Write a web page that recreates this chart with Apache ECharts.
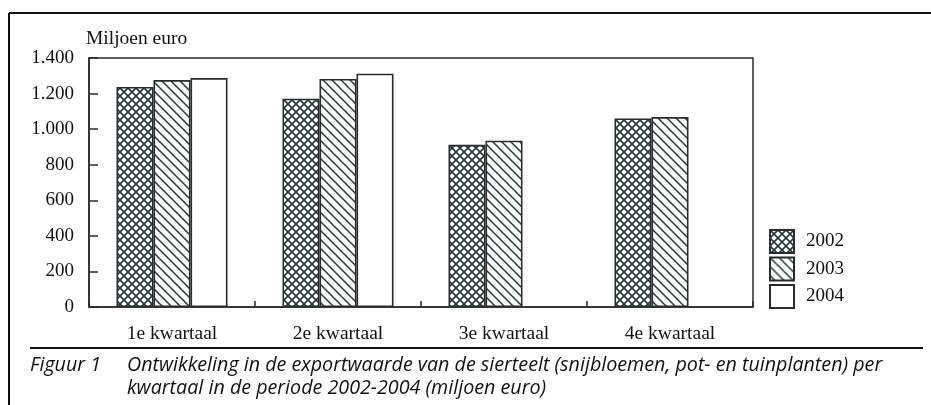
<!DOCTYPE html>
<html>
<head>
<meta charset="utf-8">
<script src="https://cdn.jsdelivr.net/npm/echarts@6/dist/echarts.min.js"></script>
<style>
  html, body { margin: 0; padding: 0; background: #fff; }
  #chart { width: 931px; height: 405px; }
</style>
</head>
<body>
<div id="chart"></div>
<script>
const categories = ["1e kwartaal", "2e kwartaal", "3e kwartaal", "4e kwartaal"];
const years = ["2002", "2003", "2004"];
const values2002 = [1237, 1171, 912, 1060];
const values2003 = [1276, 1282, 935, 1068];
const values2004 = [1287, 1312, null, null];
const yTicks = [0, 200, 400, 600, 800, 1000, 1200, 1400];

const ink = "#2b2b2b";
const hatchInk = "#263a3a";

function crossHatch() {
  const c = document.createElement("canvas");
  c.width = 8; c.height = 8;
  const g = c.getContext("2d");
  g.fillStyle = "#fff";
  g.fillRect(0, 0, 8, 8);
  g.strokeStyle = hatchInk;
  g.lineWidth = 1.7;
  g.beginPath();
  g.moveTo(-1, -1); g.lineTo(9, 9);
  g.moveTo(9, -1); g.lineTo(-1, 9);
  g.stroke();
  return c;
}

function diagHatch() {
  const c = document.createElement("canvas");
  c.width = 9; c.height = 9;
  const g = c.getContext("2d");
  g.fillStyle = "#fff";
  g.fillRect(0, 0, 9, 9);
  g.strokeStyle = hatchInk;
  g.lineWidth = 1.5;
  g.beginPath();
  g.moveTo(-1, -1); g.lineTo(10, 10);
  g.moveTo(-1, 8); g.lineTo(1, 10);
  g.moveTo(8, -1); g.lineTo(10, 1);
  g.stroke();
  return c;
}

const fills = [
  { image: crossHatch(), repeat: "repeat" },
  { image: diagHatch(), repeat: "repeat" },
  "#fff"
];
const seriesData = [values2002, values2003, values2004];

const serif = "'Liberation Serif', 'Times New Roman', serif";
const capFont = "'Open Sans', 'DejaVu Sans', sans-serif";

function fmt(v) {
  return String(v).replace(/\B(?=(\d{3})+(?!\d))/g, ".");
}

const chart = echarts.init(document.getElementById("chart"), null, { renderer: "canvas" });

chart.setOption({
  animation: false,
  backgroundColor: "#fff",
  grid: {
    left: 89, top: 58, width: 664, height: 249,
    show: true, borderColor: ink, borderWidth: 1.5, backgroundColor: "transparent"
  },
  legend: {
    orient: "vertical",
    left: 769, top: 229, padding: 0,
    itemWidth: 24, itemHeight: 23, itemGap: 2.5,
    icon: "rect",
    data: years,
    textStyle: { fontFamily: serif, fontSize: 19, lineHeight: 23, color: "#111", padding: [0, 0, 0, 7] }
  },
  xAxis: {
    type: "category",
    data: categories,
    axisLine: { lineStyle: { color: ink, width: 1.5 } },
    axisTick: { show: true, inside: true, length: 6, lineStyle: { color: ink, width: 1.5 } },
    axisLabel: { margin: 17, fontFamily: serif, fontSize: 19.5, color: "#111" },
    splitLine: { show: false }
  },
  yAxis: {
    type: "value",
    min: yTicks[0], max: yTicks[yTicks.length - 1], interval: 200,
    name: "Miljoen euro",
    nameLocation: "end",
    nameGap: 9,
    nameTextStyle: { fontFamily: serif, fontSize: 19.5, color: "#111", align: "left", padding: [0, 0, 0, -3] },
    axisLine: { show: true, lineStyle: { color: ink, width: 1.5 } },
    axisTick: { show: true, inside: true, length: 9, lineStyle: { color: ink, width: 1.5 } },
    axisLabel: {
      margin: 15, fontFamily: serif, fontSize: 19, color: "#111",
      formatter: (v) => fmt(v)
    },
    splitLine: { show: false }
  },
  series: years.map((y, i) => ({
    name: y,
    type: "bar",
    data: seriesData[i],
    barWidth: 37,
    barGap: "0%",
    itemStyle: { color: fills[i], borderColor: ink, borderWidth: 1.6 }
  })),
  graphic: [
    { type: "line", shape: { x1: 9, y1: 13, x2: 931, y2: 13 }, style: { stroke: "#111", lineWidth: 2 } },
    { type: "line", shape: { x1: 9, y1: 13, x2: 9, y2: 405 }, style: { stroke: "#111", lineWidth: 2 } },
    { type: "line", shape: { x1: 30, y1: 348, x2: 923, y2: 348 }, style: { stroke: "#111", lineWidth: 2 } },
    { type: "text", left: 30, top: 355, style: { text: "Figuur 1", font: "italic 19.7px " + capFont, fill: "#111" } },
    { type: "text", left: 127, top: 355, style: { text: "Ontwikkeling in de exportwaarde van de sierteelt (snijbloemen, pot- en tuinplanten) per", font: "italic 19.7px " + capFont, fill: "#111" } },
    { type: "text", left: 127, top: 378, style: { text: "kwartaal in de periode 2002-2004 (miljoen euro)", font: "italic 19.7px " + capFont, fill: "#111" } }
  ]
});
</script>
</body>
</html>
